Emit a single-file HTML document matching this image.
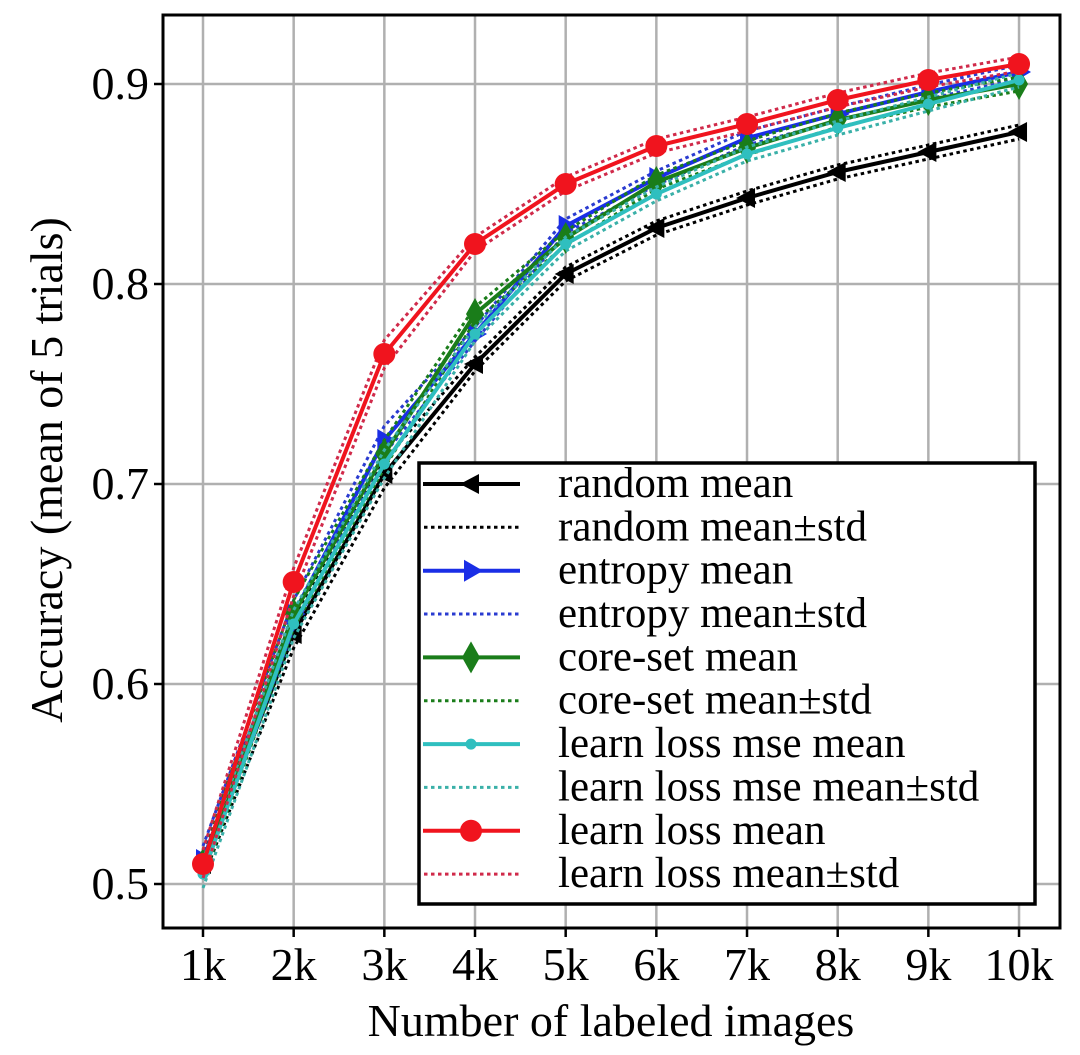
<!DOCTYPE html>
<html><head><meta charset="utf-8"><style>
html,body{margin:0;padding:0;background:#fff;}
svg{display:block;font-family:"Liberation Serif",serif;}
</style></head><body>
<svg id="s" width="1080" height="1055" xmlns="http://www.w3.org/2000/svg"></svg>
<script>
const S=document.getElementById('s');let h='';
const L=163,R=1060,T=15,B=928;
const X=i=>203+i*90.67, Y=v=>884-(v-0.5)*2000;
for(let i=0;i<10;i++){h+=`<line x1="${X(i)}" y1="${T}" x2="${X(i)}" y2="${B}" stroke="#b0b0b0" stroke-width="2.5"/>`;
h+=`<line x1="${X(i)}" y1="${B}" x2="${X(i)}" y2="${B+9}" stroke="#000" stroke-width="2.5"/>`;
h+=`<text x="${X(i)}" y="980" font-size="46" text-anchor="middle">${i+1}k</text>`;}
[0.5,0.6,0.7,0.8,0.9].forEach(v=>{h+=`<line x1="${L}" y1="${Y(v)}" x2="${R}" y2="${Y(v)}" stroke="#b0b0b0" stroke-width="2.5"/>`;
h+=`<line x1="${L-9}" y1="${Y(v)}" x2="${L}" y2="${Y(v)}" stroke="#000" stroke-width="2.5"/>`;
h+=`<text x="${L-14}" y="${Y(v)+15}" font-size="46" text-anchor="end">${v.toFixed(1)}</text>`;});
const D=[
['#000','tri-l',[0.51,0.625,0.705,0.76,0.805,0.828,0.843,0.856,0.866,0.876]],
['#1a2ee6','tri-r',[0.512,0.635,0.722,0.775,0.829,0.853,0.873,0.885,0.896,0.906]],
['#1a7d1a','dia',[0.51,0.635,0.715,0.785,0.823,0.851,0.868,0.882,0.892,0.900]],
['#2fbfbf','dot',[0.505,0.63,0.71,0.775,0.82,0.845,0.865,0.878,0.89,0.902]],
['#f0141e','circ',[0.51,0.651,0.765,0.82,0.85,0.869,0.88,0.892,0.902,0.91]]];
const stdc=['#000','#2a3bd0','#1a7d1a','#3ab0a8','#d02a4a'];
function mk(t,x,y,c){
 if(t=='tri-l')return `<polygon points="${x-11},${y} ${x+8},${y-10} ${x+8},${y+10}" fill="${c}"/>`;
 if(t=='tri-r')return `<polygon points="${x+12},${y} ${x-7},${y-11} ${x-7},${y+11}" fill="${c}"/>`;
 if(t=='dia')return `<polygon points="${x},${y-16} ${x+9},${y} ${x},${y+16} ${x-9},${y}" fill="${c}"/>`;
 if(t=='dot')return `<circle cx="${x}" cy="${y}" r="5.5" fill="${c}"/>`;
 return `<circle cx="${x}" cy="${y}" r="11" fill="${c}"/>`;}
h+=`<g clip-path="url(#cp)"><clipPath id="cp"><rect x="${L}" y="${T}" width="${R-L}" height="${B-T}"/></clipPath>`;
D.forEach((d,k)=>{
 [-1,1].forEach(s=>{let off=0.0035;const p=d[2].map((v,i)=>X(i)+','+Y(v+s*off*(i<3?2:1))).join(' ');
  h+=`<polyline points="${p}" fill="none" stroke="${stdc[k]}" stroke-width="3" stroke-dasharray="3.5,3.5"/>`;});
 const p=d[2].map((v,i)=>X(i)+','+Y(v)).join(' ');
 h+=`<polyline points="${p}" fill="none" stroke="${d[0]}" stroke-width="4"/>`;
 d[2].forEach((v,i)=>h+=mk(d[1],X(i),Y(v),d[0]));});
h+='</g>';
h+=`<rect x="${L}" y="${T}" width="${R-L}" height="${B-T}" fill="none" stroke="#000" stroke-width="3"/>`;
h+=`<rect x="419" y="463" width="616" height="441" fill="#fff" stroke="#000" stroke-width="3.5"/>`;
const names=['random','entropy','core-set','learn loss mse','learn loss'];
D.forEach((d,k)=>{const y1=484+k*86.7,y2=y1+43.3;
 h+=`<line x1="423" y1="${y1}" x2="520" y2="${y1}" stroke="${d[0]}" stroke-width="4"/>`+mk(d[1],471,y1,d[0]);
 h+=`<text x="558" y="${y1+13}" font-size="43">${names[k]} mean</text>`;
 h+=`<line x1="424" y1="${y2}" x2="520" y2="${y2}" stroke="${stdc[k]}" stroke-width="3" stroke-dasharray="3.5,3.5"/>`;
 h+=`<text x="558" y="${y2+13}" font-size="43">${names[k]} mean±std</text>`;});
h+=`<text x="611" y="1036" font-size="46" text-anchor="middle">Number of labeled images</text>`;
h+=`<text transform="translate(62,470) rotate(-90)" font-size="46" text-anchor="middle">Accuracy (mean of 5 trials)</text>`;
S.innerHTML=h;
</script>
</body></html>
